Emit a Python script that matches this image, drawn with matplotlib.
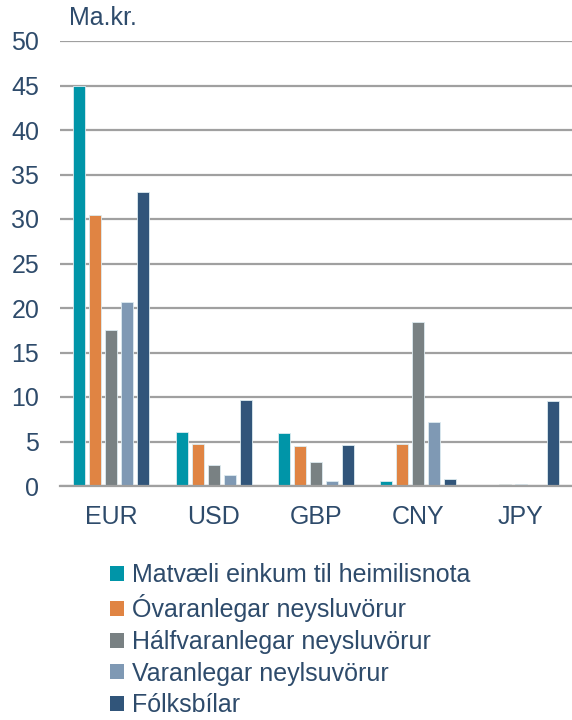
import matplotlib
matplotlib.use("Agg")
import matplotlib.pyplot as plt
import numpy as np
from matplotlib.patches import Patch

categories = ["EUR", "USD", "GBP", "CNY", "JPY"]
series_names = ["Matvæli einkum til heimilisnota", "Óvaranlegar neysluvörur",
                "Hálfvaranlegar neysluvörur", "Varanlegar neylsuvörur", "Fólksbílar"]
matvaeli = [45.0, 6.1, 6.0, 0.6, 0.1]
ovaranlegar = [30.4, 4.7, 4.5, 4.7, 0.2]
halfvaranlegar = [17.5, 2.4, 2.7, 18.4, 0.2]
varanlegar = [20.7, 1.2, 0.6, 7.2, 0.0]
folksbilar = [33.0, 9.7, 4.6, 0.8, 9.6]
yticks = [0, 5, 10, 15, 20, 25, 30, 35, 40, 45, 50]

series = [matvaeli, ovaranlegar, halfvaranlegar, varanlegar, folksbilar]
colors = ["#0095A8", "#E08443", "#798183", "#7F99B4", "#31557A"]
text_color = "#2E4B6B"

plt.rcParams['font.family'] = ['Liberation Sans', 'DejaVu Sans']
fs = 18

fig = plt.figure(figsize=(5.72, 7.2), dpi=100)
ax = fig.add_axes([60/572, 1-486/720, 1-60/572, (486-41)/720])

x = np.arange(len(categories))
pitch = 0.156
width = 0.118
for i, (vals, c) in enumerate(zip(series, colors)):
    ax.bar(x + (i - 2) * pitch, vals, width, color=c, edgecolor="#DDEBF0", linewidth=0.6, zorder=3)

ax.set_xlim(-0.5, len(categories) - 0.5)
ax.set_ylim(0, 50)
ax.set_yticks(yticks)
ax.yaxis.grid(True, color="#A0A0A0", linewidth=1.6, zorder=0)
ax.set_axisbelow(True)
for s in ["top", "right", "left"]:
    ax.spines[s].set_visible(False)
ax.spines["bottom"].set_color("#A0A0A0")
ax.spines["bottom"].set_linewidth(1.6)
ax.spines["bottom"].set_zorder(4)
ax.tick_params(axis="both", length=0, labelsize=fs, colors=text_color)
ax.tick_params(axis="x", pad=14)
ax.tick_params(axis="y", pad=15)
ax.set_xticks(x)
ax.set_xticklabels(categories)

fig.text(69/572, 1-18/720, "Ma.kr.", fontsize=fs, color=text_color, va="center", ha="left")

handles = [Patch(facecolor=c, edgecolor="none") for c in colors]
leg = fig.legend(handles, series_names, loc="upper left", bbox_to_anchor=(100/572, 1-553/720),
                 frameon=False, fontsize=fs, labelcolor=text_color, handlelength=0.55,
                 handleheight=0.55, handletextpad=0.35, labelspacing=0.3, borderaxespad=0)

fig.savefig("out.png", dpi=100)
